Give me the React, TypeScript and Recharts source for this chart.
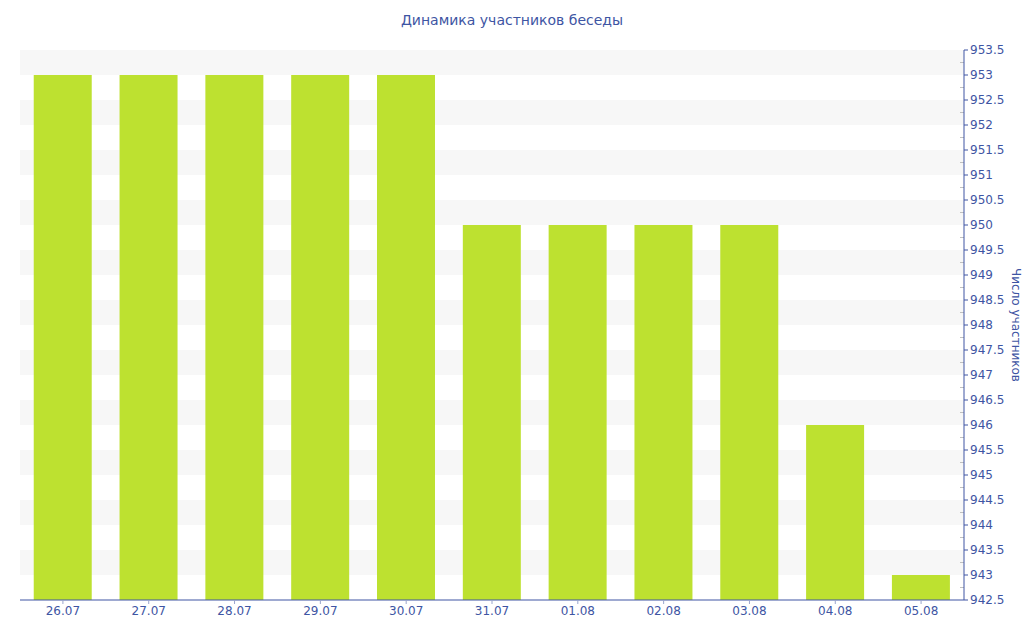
import { Bar, BarChart, Label, ReferenceArea, ReferenceLine, XAxis, YAxis } from "recharts";

const days = ["26.07", "27.07", "28.07", "29.07", "30.07", "31.07", "01.08", "02.08", "03.08", "04.08", "05.08"];
const members = [953, 953, 953, 953, 953, 950, 950, 950, 950, 946, 943];
const yTicks = [
  942.5, 943, 943.5, 944, 944.5, 945, 945.5, 946, 946.5, 947, 947.5, 948, 948.5, 949, 949.5, 950, 950.5, 951, 951.5,
  952, 952.5, 953, 953.5,
];

const data = days.map((day, i) => ({ day, members: members[i] }));

const TEXT = "#3e55a3";
const FONT = "'DejaVu Sans', Verdana, sans-serif";

// серые полосы: [n, n + 0.5]
const bands = yTicks.filter((t) => Number.isInteger(t) && t < yTicks[yTicks.length - 1]);
// мелкие деления между основными
const minorTicks = yTicks.slice(0, -1).map((t) => t + 0.25);

const AxisTitle = ({ viewBox }: any) => {
  const x = viewBox.x + viewBox.width - 8;
  const y = viewBox.y + viewBox.height / 2;
  return (
    <text
      x={x}
      y={y}
      transform={`rotate(90, ${x}, ${y})`}
      textAnchor="middle"
      dominantBaseline="central"
      fill={TEXT}
      fontSize={12}
      fontFamily={FONT}
    >
      Число участников
    </text>
  );
};

export default function App() {
  return (
    <div style={{ position: "absolute", left: 0, top: 0, width: 1024, height: 640, background: "#fff", fontFamily: FONT }}>
      <div
        style={{
          position: "absolute",
          top: 12,
          width: 1024,
          textAlign: "center",
          fontSize: 14,
          color: TEXT,
        }}
      >
        Динамика участников беседы
      </div>
      <BarChart
        width={1024}
        height={640}
        data={data}
        margin={{ top: 50, right: 0, bottom: 0, left: 20 }}
        barCategoryGap="16%"
      >
        {bands.map((b) => (
          <ReferenceArea key={b} y1={b} y2={b + 0.5} fill="#f7f7f7" fillOpacity={1} stroke="none" ifOverflow="visible" />
        ))}
        <XAxis
          dataKey="day"
          height={40}
          tickSize={4}
          tick={{ fill: TEXT, fontSize: 12, fontFamily: FONT }}
          axisLine={{ stroke: TEXT }}
          tickLine={{ stroke: "#9aa5cc" }}
        />
        <YAxis
          orientation="right"
          width={60}
          domain={[942.5, 953.5]}
          ticks={yTicks}
          interval={0}
          tickSize={4}
          tick={{ fill: TEXT, fontSize: 12, fontFamily: FONT }}
          axisLine={{ stroke: TEXT }}
          tickLine={{ stroke: TEXT }}
          allowDecimals
        >
          <Label content={AxisTitle} />
        </YAxis>
        {minorTicks.map((m) => (
          <ReferenceLine
            key={m}
            y={m}
            ifOverflow="visible"
            shape={(p: any) => {
              const right = Math.max(p.x1, p.x2);
              return <line x1={right - 4} y1={p.y1} x2={right} y2={p.y2} stroke="#c0c0c0" />;
            }}
          />
        ))}
        <Bar dataKey="members" fill="#bde130" isAnimationActive={false} />
      </BarChart>
    </div>
  );
}
